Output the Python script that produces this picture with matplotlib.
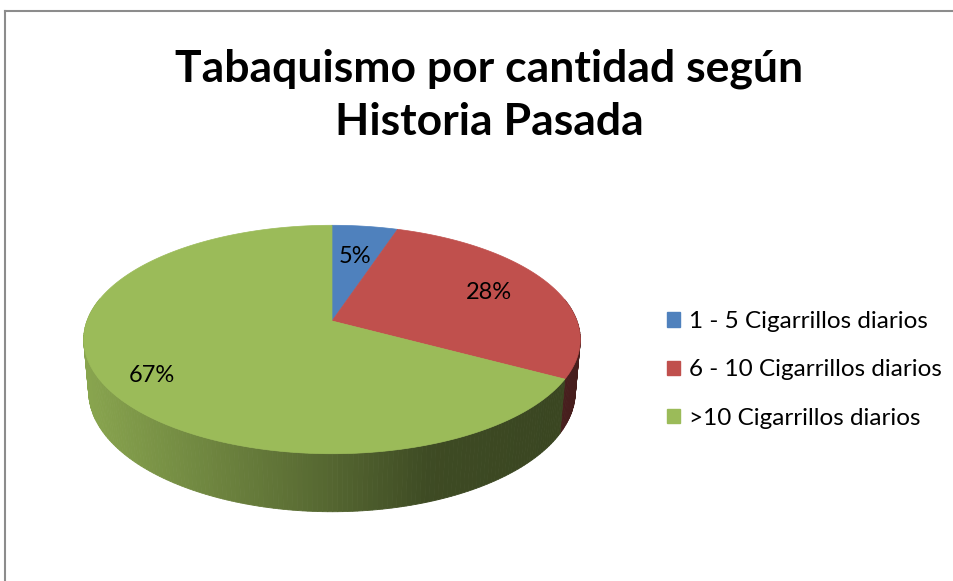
import numpy as np
import matplotlib.pyplot as plt
from matplotlib.patches import Polygon, Patch
from matplotlib.lines import Line2D

plt.rcParams["font.family"] = ["Lato", "DejaVu Sans"]

# data
categories = ["1 - 5 Cigarrillos diarios", "6 - 10 Cigarrillos diarios", ">10 Cigarrillos diarios"]
shares = [5, 28, 67]
colors = ["#4F81BD", "#C0504D", "#9BBB59"]
title = "Tabaquismo por cantidad según\nHistoria Pasada"

# 3D pie geometry (pixel space)
CX, CY, SCALE = 332, 321, 245
ELEV = np.radians(27)
DIST = 5.5
THICK = 0.24
label_r = [0.65, 0.72, 0.8]


def proj(theta, r=1.0, h=0.0):
    u = r * np.sin(theta)
    v = r * np.cos(theta)
    depth = DIST + v * np.cos(ELEV) - h * np.sin(ELEV)
    k = DIST / depth
    x = u * k
    y = (v * np.sin(ELEV) + h * np.cos(ELEV)) * k
    return CX + SCALE * x, CY - SCALE * y


def shade(hex_color, xn):
    f = np.interp(xn, [-1.0, -0.1, 0.4, 1.0], [0.88, 0.58, 0.40, 0.37])
    rgb = np.array([int(hex_color[i:i + 2], 16) for i in (1, 3, 5)]) / 255
    return tuple(rgb * f)


fig = plt.figure(figsize=(9.54, 5.81), dpi=100)
ax = fig.add_axes([0, 0, 1, 1])
ax.set_xlim(0, 954)
ax.set_ylim(581, 0)
ax.axis("off")

# chart frame
ax.add_line(Line2D([5, 954], [11, 11], color="#8c8c8c", lw=1.5))
ax.add_line(Line2D([5, 5], [11, 581], color="#8c8c8c", lw=1.5))

fracs = np.array(shares, dtype=float) / sum(shares)
bounds = np.concatenate([[0], np.cumsum(fracs)]) * 2 * np.pi

# side walls
strips = []
for i, col in enumerate(colors):
    a0, a1 = bounds[i], bounds[i + 1]
    n = max(2, int(np.degrees(a1 - a0)))
    th = np.linspace(a0, a1, n + 1)
    for t0, t1 in zip(th[:-1], th[1:]):
        tm = 0.5 * (t0 + t1)
        if np.cos(tm) > 0.2:
            continue
        pts = [proj(t0), proj(t1), proj(t1, h=-THICK), proj(t0, h=-THICK)]
        xm = (proj(tm)[0] - CX) / SCALE
        c = shade(col, xm)
        strips.append((np.cos(tm), pts, c))
strips.sort(key=lambda s: -s[0])
for _, pts, c in strips:
    ax.add_patch(Polygon(pts, closed=True, facecolor=c, edgecolor=c, lw=0.6))

# top faces
for i, col in enumerate(colors):
    th = np.linspace(bounds[i], bounds[i + 1], 200)
    pts = [proj(0, r=0)] + [proj(t) for t in th]
    ax.add_patch(Polygon(pts, closed=True, facecolor=col, edgecolor=col, lw=0.5))

# data labels
for i, s in enumerate(shares):
    tm = 0.5 * (bounds[i] + bounds[i + 1])
    lx, ly = proj(tm, r=label_r[i])
    ax.text(lx, ly + (6 if i == 2 else 0), f"{s}%", ha="center", va="center",
            fontsize=17, color="black")

ax.text(489, 95, title, ha="center", va="center", fontsize=32,
        fontweight="bold", linespacing=1.38)

handles = [Patch(facecolor=c, edgecolor=c) for c in colors]
ax.legend(handles, categories, loc="center left", bbox_to_anchor=(667, 370),
          bbox_transform=ax.transData, frameon=False, fontsize=17.5,
          handlelength=0.55, handleheight=0.55, handletextpad=0.35,
          labelspacing=1.12, borderpad=0, borderaxespad=0)

fig.savefig("out.png", dpi=100)
